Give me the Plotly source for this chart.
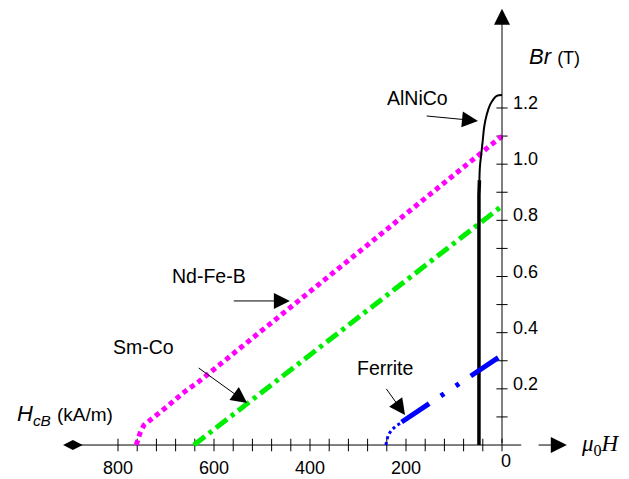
import plotly.graph_objects as go

# ---- data (H in kA/m, B in T) ----
ndfeb_H = [762, 760, 754, 746, 729, 717, 694, 665, 633, 0]
ndfeb_B = [0.0, 0.014, 0.043, 0.071, 0.093, 0.114, 0.142, 0.185, 0.224, 1.10]

smco_H = [642, 0]
smco_B = [0.0, 0.851]

alnico_H = [0, 11, 18, 25, 32, 37, 40, 43, 46, 47, 48, 48]
alnico_B = [1.246, 1.243, 1.231, 1.211, 1.175, 1.134, 1.086, 1.039, 0.991, 0.943, 0.89, 0.0]

ferrite_H = [242, 240, 237, 230, 221, 212, 209, 0]
ferrite_B = [0.0, 0.018, 0.036, 0.053, 0.068, 0.077, 0.082, 0.32]

x_tick_vals = [0, 40, 80, 120, 160, 200, 240, 280, 320, 360, 400, 440, 480, 520, 560, 600, 640, 680, 720, 760, 800]
x_tick_labels = ["800", "600", "400", "200", "0"]
x_tick_label_vals = [800, 600, 400, 200, 0]
y_tick_vals = [0.1, 0.2, 0.3, 0.4, 0.5, 0.6, 0.7, 0.8, 0.9, 1.0, 1.1, 1.2]
y_tick_labels = ["0.2", "0.4", "0.6", "0.8", "1.0", "1.2"]
y_tick_label_vals = [0.2, 0.4, 0.6, 0.8, 1.0, 1.2]

FONT = "Liberation Sans, Arial, sans-serif"

fig = go.Figure()

# x axis line (diamond end to just past origin)
fig.add_trace(go.Scatter(x=[894, -40], y=[0, 0], mode="lines",
                         line=dict(color="black", width=1), hoverinfo="skip"))
fig.add_trace(go.Scatter(x=[894], y=[0], mode="markers",
                         marker=dict(symbol="diamond-wide", size=14, color="black"),
                         hoverinfo="skip"))
# ticks
fig.add_trace(go.Scatter(x=x_tick_vals, y=[0] * len(x_tick_vals), mode="markers",
                         marker=dict(symbol="line-ns", size=9,
                                     line=dict(color="black", width=1)),
                         hoverinfo="skip"))
fig.add_trace(go.Scatter(x=[0] * len(y_tick_vals), y=y_tick_vals, mode="markers",
                         marker=dict(symbol="line-ew", size=8,
                                     line=dict(color="black", width=1)),
                         hoverinfo="skip"))

# curves
fig.add_trace(go.Scatter(x=ndfeb_H, y=ndfeb_B, mode="lines",
                         line=dict(color="#FF00FF", width=5, dash="5px,4px"),
                         hoverinfo="skip"))
fig.add_trace(go.Scatter(x=smco_H, y=smco_B, mode="lines",
                         line=dict(color="#00EE00", width=5, dash="14px,5px,4px,5px"),
                         hoverinfo="skip"))
split_a = 10
fig.add_trace(go.Scatter(x=alnico_H[:split_a], y=alnico_B[:split_a], mode="lines",
                         line=dict(color="black", width=2, shape="spline"),
                         hoverinfo="skip"))
fig.add_trace(go.Scatter(x=alnico_H[split_a - 1:], y=alnico_B[split_a - 1:], mode="lines",
                         line=dict(color="black", width=3.5),
                         hoverinfo="skip"))
split_f = 6
fig.add_trace(go.Scatter(x=ferrite_H[:split_f + 1], y=ferrite_B[:split_f + 1], mode="lines",
                         line=dict(color="#0000FF", width=3, dash="3px,3px"),
                         hoverinfo="skip"))
fig.add_trace(go.Scatter(x=ferrite_H[split_f:], y=ferrite_B[split_f:], mode="lines",
                         line=dict(color="#0000FF", width=5, dash="33px,14px,4px,14px,4px,14px"),
                         hoverinfo="skip"))

ann = []


def pointer(tip, tail):
    return dict(x=tip[0], y=tip[1], ax=tail[0], ay=tail[1], xref="x", yref="y",
                axref="x", ayref="y", showarrow=True, arrowhead=2, arrowsize=3.2,
                arrowwidth=1, arrowcolor="black", text=" ",
                font=dict(size=1))


# axis arrows
ann.append(pointer((0, 1.553), (0, 0)))
ann.append(pointer((-135, 0), (-73, 0)))

# tick labels
for v, t in zip(x_tick_label_vals, x_tick_labels):
    if v == 0:
        ann.append(dict(x=v, y=0, text=t, showarrow=False, yshift=-16, xshift=4,
                        font=dict(family=FONT, size=18, color="black")))
    else:
        ann.append(dict(x=v, y=0, text=t, showarrow=False, yshift=-23,
                        font=dict(family=FONT, size=18, color="black")))
for v, t in zip(y_tick_label_vals, y_tick_labels):
    ann.append(dict(x=0, y=v, text=t, showarrow=False, xanchor="left", xshift=9, yshift=5,
                    font=dict(family=FONT, size=18, color="black")))

# labels with pointer arrows
ann.append(pointer((50, 1.154), (160, 1.172)))
ann.append(pointer((442, 0.513), (562, 0.513)))
ann.append(pointer((531, 0.150), (635, 0.278)))
ann.append(pointer((202, 0.107), (244, 0.207)))

for txt, x, y in [("AlNiCo", 177, 1.236), ("Nd-Fe-B", 610, 0.602),
                  ("Sm-Co", 746, 0.349), ("Ferrite", 244, 0.274)]:
    ann.append(dict(x=x, y=y, text=txt, showarrow=False,
                    font=dict(family=FONT, size=19.5, color="black")))

ann.append(dict(x=-52, y=1.382, xanchor="left", showarrow=False,
                text="<i>Br</i> <span style='font-size:18px'>(T)</span>",
                font=dict(family=FONT, size=22, color="black")))
ann.append(dict(x=1015, y=0.107, xanchor="left", showarrow=False,
                text="<i>H</i><sub><i>cB</i></sub> <span style='font-size:19px'>(kA/m)</span>",
                font=dict(family=FONT, size=22, color="black")))
ann.append(dict(x=-160, y=0, xanchor="left", showarrow=False,
                text="<i>μ</i><sub>0</sub><i>H</i>",
                font=dict(family="Liberation Serif, Times New Roman, serif", size=23, color="black")))

# page body has an 8px margin: figure is 8px smaller and ranges shifted accordingly
fig.update_layout(
    width=621, height=471,
    margin=dict(l=0, r=0, t=0, b=0),
    paper_bgcolor="white", plot_bgcolor="white",
    showlegend=False,
    xaxis=dict(range=[1029.2, -264.6], visible=False, fixedrange=True),
    yaxis=dict(range=[-0.121, 1.556], visible=False, fixedrange=True),
    annotations=ann,
)

fig.write_html("out.html")
